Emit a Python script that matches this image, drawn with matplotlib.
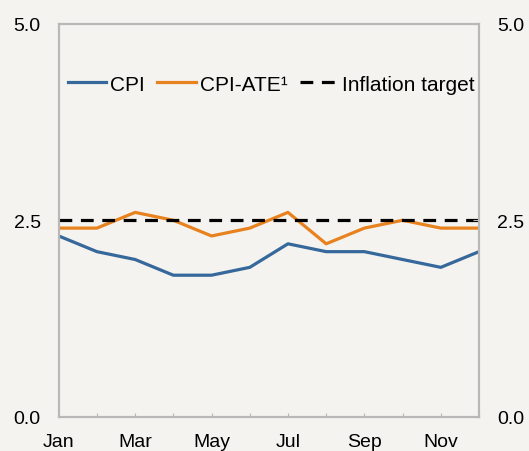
import matplotlib.pyplot as plt

plt.rcParams['font.family'] = ['Liberation Sans', 'DejaVu Sans']

months = ['Jan', 'Feb', 'Mar', 'Apr', 'May', 'Jun', 'Jul', 'Aug', 'Sep', 'Oct', 'Nov', 'Dec']
cpi = [2.3, 2.1, 2.0, 1.8, 1.8, 1.9, 2.2, 2.1, 2.1, 2.0, 1.9, 2.1]
cpi_ate = [2.4, 2.4, 2.6, 2.5, 2.3, 2.4, 2.6, 2.2, 2.4, 2.5, 2.4, 2.4]
target = 2.5
yticks = [0.0, 2.5, 5.0]

bg = '#f4f3ef'
grey = '#b8b8b8'
fig = plt.figure(figsize=(5.29, 4.52), dpi=100, facecolor=bg)
ax = fig.add_axes([0.111, 0.0763, 0.7945, 0.8684], facecolor=bg)

x = range(len(months))
ax.plot(x, cpi, color='#36689b', lw=2.3, label='CPI')
ax.plot(x, cpi_ate, color='#e8821e', lw=2.3, label='CPI-ATE¹')
ax.axhline(target, color='black', lw=2.3, ls=(0, (4, 2.7)), label='Inflation target')

ax.set_xlim(0, 11)
ax.set_ylim(0, 5)
ax.set_xticks(list(x))
ax.set_xticklabels([m if i % 2 == 0 else '' for i, m in enumerate(months)])
ax.set_yticks(yticks)
ax.set_yticklabels([f'{v:.1f}' for v in yticks])

# right hand axis, same scale
ax2 = ax.twinx()
ax2.set_ylim(0, 5)
ax2.set_yticks(yticks)
ax2.set_yticklabels([f'{v:.1f}' for v in yticks])

ax.tick_params(axis='x', direction='in', length=3, color=grey, labelsize=14, pad=12)
ax.tick_params(axis='y', direction='in', length=0, labelsize=14, pad=13)
ax2.tick_params(axis='y', direction='in', length=4, color=grey, labelsize=14, pad=13)
for a in (ax, ax2):
    for s in a.spines.values():
        s.set_color(grey)
        s.set_linewidth(1.5)

ax.legend(loc='center', bbox_to_anchor=(0.506, 0.847), ncol=3, frameon=False,
          fontsize=15, handlelength=1.83, handletextpad=0.2, columnspacing=0.6,
          borderaxespad=0)

fig.savefig('out.png', dpi=100, facecolor=bg)
